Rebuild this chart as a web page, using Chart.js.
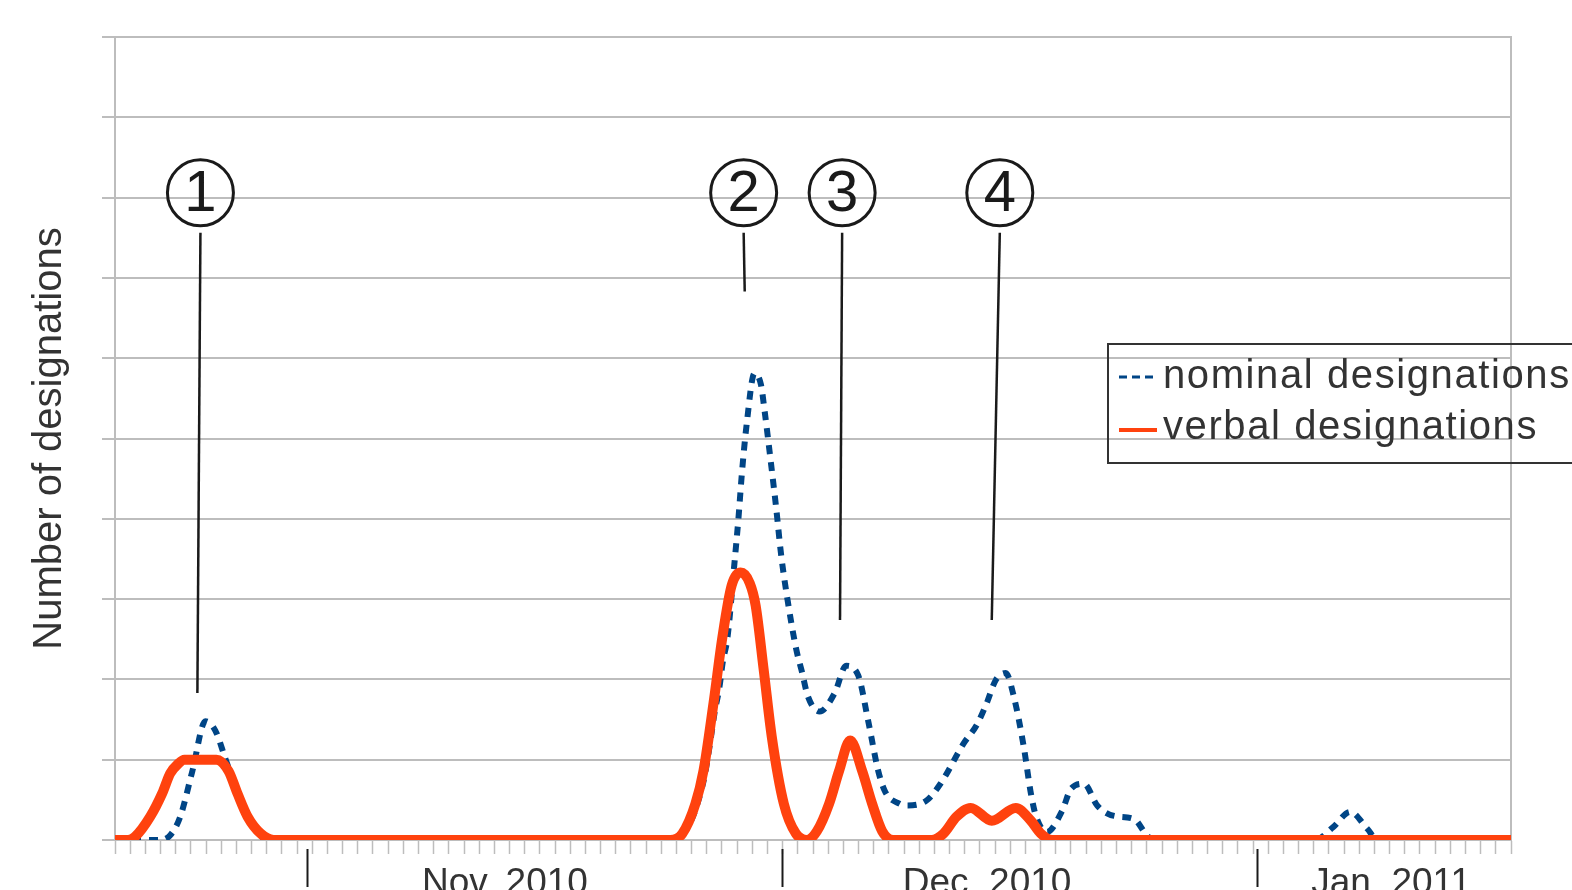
<!DOCTYPE html>
<html>
<head>
<meta charset="utf-8">
<title>Designations over time</title>
<script src="https://cdn.jsdelivr.net/npm/chart.js@4.4.1/dist/chart.umd.min.js"></script>
<style>
  body { margin: 0; overflow: hidden; background: #fff; }
  #wrap { position: relative; width: 1572px; height: 890px; overflow: hidden; }
  #chart { position: absolute; left: 0; top: 0; }
  #legend {
    position: absolute; left: 1107px; top: 343px; width: 520px; height: 117px;
    border: 2px solid #333; font: 40px "Liberation Sans", Arial, sans-serif;
    letter-spacing: 1.6px; color: #333;
  }
  #legend .row { position: absolute; left: 0; height: 51px; line-height: 51px; white-space: nowrap; }
  #legend svg { position: absolute; left: 10px; top: 0; }
  #legend span { position: absolute; left: 54px; top: 0; }
</style>
</head>
<body>
<div id="wrap">
  <canvas id="chart" width="1572" height="890"></canvas>
  <div id="legend"></div>
</div>
<script>
// Series names
const seriesLabels = ["nominal designations", "verbal designations"]
const seriesColors = ["#004586", "#ff420e"]

// Day index (0 = first day on the axis) and number of designations
const nominalDays = [0, 2.98, 3.64, 4.30, 5.10, 5.96, 6.62, 7.28, 8.27, 9.07, 10.13,
  36.60, 37.19, 37.86, 38.38, 38.85, 39.18, 39.51, 39.84, 40.04, 40.37,
  40.81, 41.08, 41.32, 41.63, 42.14, 42.57, 42.82, 43.20, 43.57, 43.90,
  44.34, 44.89, 45.29, 45.66, 46.44, 47.43, 48.18, 48.98, 49.64, 50.30,
  50.76, 51.73, 52.15, 53.47, 54.40, 55.92, 56.78, 57.44, 58.04, 58.70,
  59.23, 59.89, 60.36, 60.69, 61.42, 62.41, 63.01, 63.86, 64.73, 65.85,
  67.17, 68.03, 68.50, 79.09, 80.28, 81.40, 82.53, 83.19, 92]
const nominalCounts = [0, 0, 0.06, 0.29, 0.86, 1.48, 1.36, 1.01, 0.49, 0.18, 0,
  0, 0.04, 0.20, 0.45, 0.79, 1.16, 1.58, 1.91, 2.20, 2.53,
  3.42, 3.99, 4.58, 5.18, 5.81, 5.67, 5.33, 4.74, 4.14, 3.55,
  2.97, 2.38, 2.08, 1.79, 1.60, 1.83, 2.17, 2.05, 1.48, 0.86,
  0.60, 0.45, 0.43, 0.49, 0.70, 1.20, 1.43, 1.70, 1.99, 2.08,
  1.79, 1.16, 0.58, 0.30, 0.10, 0.36, 0.64, 0.70, 0.43, 0.30,
  0.26, 0.05, 0, 0, 0.16, 0.35, 0.14, 0, 0]

const verbalDays = [0, 0.86, 1.32, 2.32, 3.11, 3.64, 4.17, 4.57, 6.68, 7.48,
  8.07, 8.74, 9.60, 10.46, 36.60, 37.39, 38.25, 38.78, 39.44, 40.04,
  40.64, 41.23, 41.83, 42.22, 42.75, 43.28, 44.08, 44.87, 45.60, 46.26,
  47.06, 47.72, 48.45, 49.24, 49.90, 50.56, 51.29, 53.81, 54.60, 55.46,
  56.39, 57.78, 59.36, 60.36, 61.02, 61.75, 92]
const verbalCounts = [0, 0, 0.04, 0.29, 0.58, 0.83, 0.95, 1, 1, 0.86,
  0.58, 0.29, 0.08, 0, 0, 0.08, 0.45, 0.86, 1.70, 2.54,
  3.17, 3.33, 3.20, 2.92, 2.12, 1.29, 0.45, 0.08, 0, 0.11,
  0.45, 0.86, 1.24, 0.86, 0.45, 0.11, 0, 0, 0.08, 0.29,
  0.40, 0.24, 0.40, 0.24, 0.08, 0, 0]

// Axis
const dayCount = 92
const monthTickDays = [12.69, 43.98, 75.32]
const monthLabelDays = [25.7, 57.47, 84.1]
const monthLabels = ["Nov. 2010", "Dec. 2010", "Jan. 2011"]
const yMax = 10
const yTitle = "Number of designations"

// Numbered events (circle above, pointer line down to the curve)
const eventLabels = ["1", "2", "3", "4"]
const eventDays = [5.63, 41.43, 47.92, 58.31]
const eventLineEndDays = [5.43, 41.5, 47.78, 57.78]
const eventLineEndCounts = [1.83, 6.83, 2.74, 2.74]
const eventCircleCount = 8.06

const toPoints = (xs, ys) => xs.map((x, i) => ({ x, y: ys[i] }))
const FONT = '"Liberation Sans", Arial, sans-serif'
const GRID = "#bdbdbd"

const eventMarkers = {
  id: "eventMarkers",
  afterDatasetsDraw(chart) {
    const { ctx, scales: { x, y } } = chart
    const r = 33
    ctx.save()
    ctx.strokeStyle = "#1a1a1a"
    ctx.fillStyle = "#1a1a1a"
    ctx.font = `58px ${FONT}`
    ctx.textAlign = "center"
    ctx.textBaseline = "middle"
    eventLabels.forEach((label, i) => {
      const cx = x.getPixelForValue(eventDays[i])
      const cy = y.getPixelForValue(eventCircleCount)
      ctx.lineWidth = 3
      ctx.beginPath()
      ctx.arc(cx, cy, r, 0, Math.PI * 2)
      ctx.stroke()
      ctx.fillText(label, cx, cy + 2)
      ctx.lineWidth = 2.5
      ctx.beginPath()
      ctx.moveTo(cx, cy + r + 7)
      ctx.lineTo(x.getPixelForValue(eventLineEndDays[i]), y.getPixelForValue(eventLineEndCounts[i]))
      ctx.stroke()
    })
    ctx.restore()
  },
}

// Extra x axes hung off the y scale, so they take no room in the layout
const floatingAxis = (yValue, extra) => ({
  type: "linear",
  position: { y: yValue },
  min: 0,
  max: dayCount,
  border: { display: false },
  ...extra,
})

new Chart(document.getElementById("chart"), {
  type: "line",
  data: {
    datasets: [
      {
        label: seriesLabels[0],
        data: toPoints(nominalDays, nominalCounts),
        borderColor: seriesColors[0],
        borderWidth: 6,
        borderDash: [9, 8],
        order: 1,
      },
      {
        label: seriesLabels[1],
        data: toPoints(verbalDays, verbalCounts),
        borderColor: seriesColors[1],
        borderWidth: 10,
        order: 0,
      },
    ],
  },
  options: {
    responsive: false,
    animation: false,
    elements: {
      point: { radius: 0, hoverRadius: 0 },
      line: { cubicInterpolationMode: "monotone", fill: false },
    },
    layout: { padding: { left: 22, top: 37, right: 53, bottom: 36 } },
    plugins: { legend: { display: false }, tooltip: { enabled: false } },
    scales: {
      x: {
        type: "linear",
        position: "bottom",
        min: 0,
        max: dayCount,
        afterBuildTicks: (scale) => {
          scale.ticks = Array.from({ length: dayCount + 1 }, (_, d) => ({ value: d }))
        },
        ticks: { display: false, autoSkip: false },
        grid: { drawOnChartArea: false, tickLength: 14, tickColor: GRID, tickWidth: 1.5 },
        border: { display: true, color: GRID, width: 2 },
      },
      xMonth: floatingAxis(-0.11, {
        afterBuildTicks: (scale) => {
          scale.ticks = monthTickDays.map((value) => ({ value }))
        },
        ticks: { display: false, autoSkip: false },
        grid: { drawOnChartArea: false, tickLength: 38, tickColor: "#1a1a1a", tickWidth: 2 },
      }),
      xLabel: floatingAxis(0, {
        afterBuildTicks: (scale) => {
          scale.ticks = monthLabelDays.map((value) => ({ value }))
        },
        grid: { display: false },
        ticks: {
          autoSkip: false,
          maxRotation: 0,
          padding: 14,
          color: "#333",
          font: { family: FONT, size: 37 },
          callback: (value, index) => monthLabels[index],
        },
      }),
      y: {
        type: "linear",
        position: "left",
        min: 0,
        max: yMax,
        ticks: { display: false, stepSize: 1 },
        grid: { color: GRID, lineWidth: 2, tickLength: 13, tickColor: GRID },
        border: { color: GRID, width: 2 },
        title: {
          display: true,
          text: yTitle,
          color: "#333",
          font: { family: FONT, size: 40 },
          padding: { top: 4, bottom: 28 },
        },
      },
      yRight: {
        type: "linear",
        position: "right",
        ticks: { display: false },
        grid: { display: false },
        border: { display: true, color: GRID, width: 2 },
      },
    },
  },
  plugins: [eventMarkers],
})

// Legend drawn as HTML so it can sit over the plot like in the source
const legend = document.getElementById("legend")
seriesLabels.forEach((label, i) => {
  const row = document.createElement("div")
  row.className = "row"
  row.style.top = `${4 + i * 51}px`
  const dash = i === 0 ? 'stroke-dasharray="8 5" stroke-width="3"' : 'stroke-width="4"'
  row.innerHTML = `<svg width="38" height="51"><line x1="0" y1="${i === 0 ? 28 : 30}" x2="38" y2="${i === 0 ? 28 : 30}" stroke="${seriesColors[i]}" ${dash}/></svg><span>${label}</span>`
  legend.appendChild(row)
})
</script>
</body>
</html>
